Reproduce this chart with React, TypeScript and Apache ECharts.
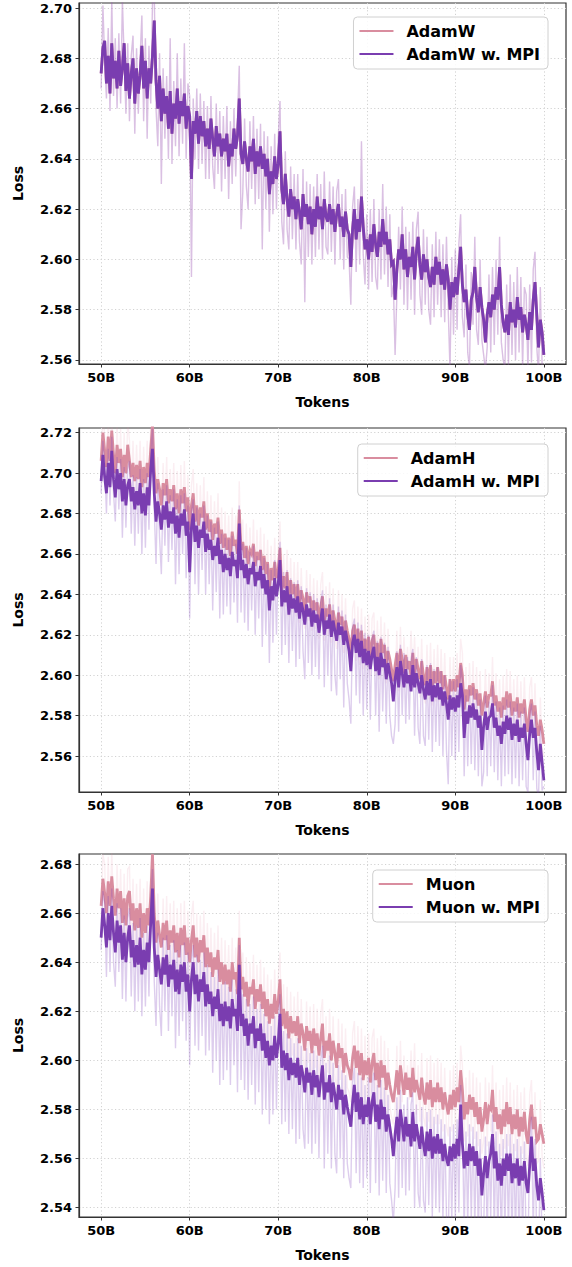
import React, { useEffect, useRef } from "react";
import * as echarts from "echarts";

// ---- data (tokens run evenly from 50B to 100B across each array, 0.2B apart) ----
const TOKEN_START = 50;
const TOKEN_END = 100;

const X_TICKS = [50, 60, 70, 80, 90, 100];
const Y_TICKS_1 = [2.56, 2.58, 2.6, 2.62, 2.64, 2.66, 2.68, 2.7];
const Y_TICKS_2 = [2.56, 2.58, 2.6, 2.62, 2.64, 2.66, 2.68, 2.7, 2.72];
const Y_TICKS_3 = [2.54, 2.56, 2.58, 2.6, 2.62, 2.64, 2.66, 2.68];

// Panel 1: AdamW vs AdamW w. MPI (the two curves coincide in the figure)
const adamwMpi = [
  2.674, 2.684, 2.687, 2.670, 2.681, 2.666, 2.686, 2.672, 2.679, 2.668,
  2.683, 2.669, 2.676, 2.686, 2.667, 2.678, 2.664, 2.674, 2.680, 2.662,
  2.676, 2.666, 2.673, 2.685, 2.668, 2.679, 2.664, 2.676, 2.670, 2.681,
  2.695, 2.671, 2.660, 2.673, 2.655, 2.668, 2.658, 2.665, 2.652, 2.667,
  2.650, 2.662, 2.656, 2.668, 2.654, 2.663, 2.657, 2.666, 2.652, 2.661,
  2.657, 2.632, 2.655, 2.650, 2.659, 2.646, 2.657, 2.649, 2.655, 2.645,
  2.652, 2.644, 2.656, 2.648, 2.641, 2.653, 2.645, 2.650, 2.641, 2.648,
  2.643, 2.650, 2.637, 2.646, 2.641, 2.652, 2.644, 2.649, 2.664, 2.642,
  2.638, 2.647, 2.640, 2.635, 2.645, 2.639, 2.648, 2.634, 2.643, 2.637,
  2.645, 2.636, 2.642, 2.633, 2.640, 2.626, 2.635, 2.630, 2.641, 2.632,
  2.638, 2.651, 2.628, 2.622, 2.634, 2.624, 2.617, 2.628, 2.620, 2.625,
  2.616, 2.624, 2.619, 2.612, 2.626, 2.617, 2.622, 2.614, 2.621, 2.610,
  2.620, 2.613, 2.625, 2.616, 2.621, 2.612, 2.624, 2.617, 2.615, 2.622,
  2.614, 2.620, 2.611, 2.618, 2.622, 2.613, 2.617, 2.609, 2.619, 2.612,
  2.610, 2.597, 2.612, 2.620, 2.608, 2.616, 2.611, 2.625, 2.613, 2.604,
  2.608, 2.600, 2.610, 2.603, 2.614, 2.606, 2.601, 2.611, 2.605, 2.616,
  2.606, 2.611, 2.602, 2.608, 2.598, 2.599, 2.584, 2.596, 2.604, 2.600,
  2.610, 2.596, 2.604, 2.593, 2.601, 2.597, 2.605, 2.592, 2.603, 2.609,
  2.598, 2.592, 2.602, 2.595, 2.600, 2.593, 2.589, 2.597, 2.590, 2.601,
  2.594, 2.599, 2.590, 2.596, 2.588, 2.598, 2.592, 2.580, 2.591, 2.585,
  2.593, 2.586, 2.596, 2.605, 2.590, 2.583, 2.588, 2.578, 2.572, 2.584,
  2.587, 2.597, 2.585, 2.579, 2.589, 2.581, 2.576, 2.567, 2.578, 2.583,
  2.577, 2.586, 2.580, 2.589, 2.584, 2.597, 2.582, 2.575, 2.571, 2.578,
  2.570, 2.583, 2.575, 2.580, 2.573, 2.585, 2.576, 2.581, 2.571, 2.578,
  2.574, 2.568, 2.579, 2.572, 2.584, 2.591, 2.578, 2.565, 2.576, 2.571,
  2.562,
];
const adamwMpiRaw = [
  2.668, 2.701, 2.679, 2.664, 2.692, 2.659, 2.703, 2.665, 2.688, 2.660,
  2.690, 2.662, 2.703, 2.680, 2.658, 2.686, 2.655, 2.681, 2.689, 2.650,
  2.684, 2.658, 2.680, 2.697, 2.655, 2.688, 2.648, 2.685, 2.662, 2.702,
  2.705, 2.660, 2.645, 2.682, 2.630, 2.676, 2.648, 2.673, 2.640, 2.688,
  2.638, 2.671, 2.645, 2.682, 2.641, 2.672, 2.646, 2.686, 2.640, 2.670,
  2.665, 2.593, 2.664, 2.640, 2.668, 2.636, 2.666, 2.638, 2.663, 2.632,
  2.661, 2.632, 2.665, 2.637, 2.628, 2.662, 2.634, 2.659, 2.627, 2.657,
  2.632, 2.661, 2.624, 2.655, 2.630, 2.660, 2.633, 2.656, 2.677, 2.612,
  2.627, 2.656, 2.629, 2.620, 2.655, 2.628, 2.657, 2.622, 2.652, 2.624,
  2.654, 2.604, 2.651, 2.620, 2.649, 2.611, 2.645, 2.618, 2.650, 2.620,
  2.648, 2.663, 2.615, 2.606, 2.643, 2.612, 2.604, 2.637, 2.608, 2.634,
  2.604, 2.634, 2.607, 2.598, 2.636, 2.583, 2.631, 2.601, 2.630, 2.598,
  2.629, 2.601, 2.634, 2.604, 2.630, 2.600, 2.635, 2.605, 2.602, 2.631,
  2.603, 2.629, 2.598, 2.627, 2.632, 2.600, 2.626, 2.596, 2.628, 2.601,
  2.600, 2.582, 2.621, 2.629, 2.595, 2.624, 2.598, 2.647, 2.602, 2.590,
  2.618, 2.588, 2.620, 2.591, 2.624, 2.593, 2.588, 2.620, 2.592, 2.630,
  2.594, 2.621, 2.589, 2.618, 2.585, 2.590, 2.562, 2.586, 2.613, 2.588,
  2.621, 2.582, 2.613, 2.580, 2.611, 2.584, 2.615, 2.578, 2.612, 2.619,
  2.586, 2.578, 2.612, 2.582, 2.609, 2.580, 2.574, 2.606, 2.577, 2.611,
  2.582, 2.608, 2.577, 2.606, 2.575, 2.609, 2.580, 2.556, 2.601, 2.570,
  2.604, 2.572, 2.606, 2.618, 2.577, 2.569, 2.598, 2.563, 2.557, 2.595,
  2.574, 2.609, 2.572, 2.566, 2.600, 2.568, 2.562, 2.556, 2.565, 2.594,
  2.563, 2.597, 2.566, 2.600, 2.570, 2.609, 2.567, 2.560, 2.557, 2.590,
  2.558, 2.594, 2.562, 2.591, 2.560, 2.597, 2.563, 2.593, 2.557, 2.589,
  2.586, 2.556, 2.590, 2.559, 2.596, 2.603, 2.565, 2.555, 2.589, 2.558,
  2.556,
];
const adamw = adamwMpi;
const adamwRaw = adamwMpiRaw;

// Panel 2: AdamH vs AdamH w. MPI
const adamh = [
  2.706, 2.720, 2.711, 2.703, 2.718, 2.706, 2.721, 2.709, 2.700, 2.714,
  2.705, 2.712, 2.698, 2.709, 2.700, 2.714, 2.706, 2.698, 2.705, 2.696,
  2.704, 2.697, 2.706, 2.693, 2.703, 2.695, 2.705, 2.698, 2.712, 2.724,
  2.701, 2.690, 2.697, 2.692, 2.684, 2.695, 2.689, 2.697, 2.685, 2.692,
  2.686, 2.694, 2.682, 2.690, 2.680, 2.692, 2.685, 2.693, 2.681, 2.688,
  2.672, 2.684, 2.690, 2.676, 2.684, 2.674, 2.683, 2.678, 2.686, 2.672,
  2.680, 2.671, 2.677, 2.667, 2.675, 2.670, 2.678, 2.665, 2.672, 2.663,
  2.670, 2.662, 2.668, 2.659, 2.671, 2.664, 2.667, 2.660, 2.682, 2.662,
  2.666, 2.658, 2.664, 2.655, 2.662, 2.660, 2.665, 2.654, 2.661, 2.657,
  2.662, 2.652, 2.659, 2.650, 2.656, 2.643, 2.653, 2.647, 2.656, 2.648,
  2.652, 2.663, 2.642, 2.649, 2.643, 2.651, 2.638, 2.647, 2.640, 2.645,
  2.638, 2.645, 2.635, 2.642, 2.638, 2.632, 2.641, 2.636, 2.639, 2.631,
  2.637, 2.632, 2.636, 2.627, 2.634, 2.639, 2.626, 2.633, 2.629, 2.635,
  2.625, 2.632, 2.627, 2.622, 2.631, 2.625, 2.629, 2.620, 2.627, 2.622,
  2.618, 2.611, 2.622, 2.625, 2.616, 2.623, 2.614, 2.622, 2.612, 2.618,
  2.612, 2.619, 2.609, 2.617, 2.620, 2.609, 2.616, 2.607, 2.618, 2.611,
  2.615, 2.605, 2.612, 2.608, 2.603, 2.597, 2.605, 2.611, 2.601, 2.613,
  2.608, 2.601, 2.610, 2.603, 2.607, 2.599, 2.611, 2.601, 2.608, 2.603,
  2.598, 2.607, 2.600, 2.595, 2.604, 2.597, 2.605, 2.594, 2.602, 2.596,
  2.604, 2.596, 2.602, 2.593, 2.600, 2.594, 2.588, 2.598, 2.592, 2.598,
  2.592, 2.600, 2.594, 2.606, 2.600, 2.583, 2.593, 2.587, 2.595, 2.590,
  2.596, 2.588, 2.593, 2.585, 2.591, 2.580, 2.586, 2.592, 2.584, 2.590,
  2.590, 2.597, 2.585, 2.590, 2.582, 2.587, 2.579, 2.589, 2.583, 2.592,
  2.584, 2.591, 2.580, 2.587, 2.582, 2.589, 2.579, 2.586, 2.581, 2.588,
  2.578, 2.572, 2.583, 2.588, 2.580, 2.585, 2.575, 2.570, 2.578, 2.573,
  2.566,
];
const adamhRaw = [
  2.700, 2.730, 2.718, 2.696, 2.728, 2.698, 2.732, 2.702, 2.694, 2.724,
  2.698, 2.722, 2.690, 2.720, 2.692, 2.726, 2.716, 2.690, 2.716, 2.688,
  2.714, 2.690, 2.716, 2.684, 2.713, 2.686, 2.716, 2.690, 2.724, 2.738,
  2.694, 2.682, 2.708, 2.684, 2.676, 2.705, 2.680, 2.708, 2.677, 2.702,
  2.678, 2.705, 2.673, 2.701, 2.672, 2.704, 2.676, 2.706, 2.672, 2.699,
  2.664, 2.694, 2.702, 2.668, 2.695, 2.665, 2.694, 2.670, 2.698, 2.664,
  2.691, 2.662, 2.689, 2.658, 2.686, 2.662, 2.690, 2.656, 2.683, 2.654,
  2.681, 2.653, 2.679, 2.650, 2.683, 2.655, 2.679, 2.651, 2.696, 2.653,
  2.677, 2.649, 2.675, 2.646, 2.673, 2.651, 2.677, 2.645, 2.672, 2.648,
  2.673, 2.643, 2.670, 2.641, 2.667, 2.634, 2.664, 2.638, 2.668, 2.639,
  2.663, 2.676, 2.633, 2.660, 2.634, 2.662, 2.629, 2.658, 2.631, 2.656,
  2.629, 2.656, 2.626, 2.653, 2.629, 2.623, 2.652, 2.627, 2.650, 2.622,
  2.648, 2.623, 2.647, 2.618, 2.645, 2.651, 2.617, 2.644, 2.620, 2.646,
  2.616, 2.643, 2.618, 2.613, 2.642, 2.616, 2.640, 2.611, 2.638, 2.613,
  2.609, 2.602, 2.633, 2.637, 2.607, 2.634, 2.605, 2.633, 2.603, 2.629,
  2.603, 2.630, 2.600, 2.628, 2.631, 2.600, 2.627, 2.598, 2.629, 2.602,
  2.626, 2.596, 2.623, 2.599, 2.594, 2.588, 2.596, 2.622, 2.592, 2.624,
  2.599, 2.619, 2.601, 2.614, 2.598, 2.622, 2.601, 2.619, 2.594, 2.614,
  2.589, 2.618, 2.591, 2.586, 2.615, 2.588, 2.616, 2.585, 2.613, 2.587,
  2.615, 2.587, 2.613, 2.584, 2.611, 2.585, 2.579, 2.609, 2.583, 2.609,
  2.583, 2.611, 2.585, 2.618, 2.611, 2.574, 2.604, 2.578, 2.606, 2.581,
  2.607, 2.579, 2.604, 2.576, 2.602, 2.571, 2.577, 2.603, 2.575, 2.601,
  2.581, 2.609, 2.576, 2.601, 2.573, 2.598, 2.570, 2.600, 2.574, 2.603,
  2.575, 2.602, 2.571, 2.598, 2.573, 2.600, 2.570, 2.597, 2.572, 2.599,
  2.569, 2.563, 2.594, 2.599, 2.571, 2.596, 2.566, 2.561, 2.589, 2.564,
  2.560,
];
const adamhMpi = [
  2.696, 2.709, 2.698, 2.690, 2.705, 2.693, 2.711, 2.697, 2.688, 2.702,
  2.692, 2.700, 2.686, 2.697, 2.684, 2.694, 2.697, 2.686, 2.693, 2.682,
  2.691, 2.684, 2.695, 2.680, 2.690, 2.679, 2.693, 2.684, 2.702, 2.712,
  2.690, 2.676, 2.686, 2.680, 2.672, 2.684, 2.677, 2.686, 2.673, 2.681,
  2.675, 2.683, 2.670, 2.679, 2.668, 2.680, 2.674, 2.682, 2.669, 2.676,
  2.651, 2.673, 2.680, 2.666, 2.674, 2.663, 2.672, 2.668, 2.676, 2.661,
  2.670, 2.662, 2.667, 2.657, 2.664, 2.659, 2.668, 2.655, 2.662, 2.651,
  2.660, 2.652, 2.658, 2.649, 2.661, 2.654, 2.657, 2.648, 2.675, 2.652,
  2.657, 2.648, 2.655, 2.645, 2.653, 2.650, 2.656, 2.644, 2.651, 2.647,
  2.654, 2.643, 2.650, 2.640, 2.647, 2.632, 2.644, 2.637, 2.648, 2.639,
  2.645, 2.657, 2.634, 2.642, 2.636, 2.644, 2.630, 2.640, 2.633, 2.638,
  2.631, 2.639, 2.628, 2.636, 2.632, 2.625, 2.635, 2.629, 2.633, 2.624,
  2.632, 2.626, 2.630, 2.621, 2.628, 2.633, 2.620, 2.627, 2.623, 2.630,
  2.619, 2.627, 2.622, 2.617, 2.626, 2.620, 2.624, 2.615, 2.622, 2.617,
  2.612, 2.602, 2.616, 2.620, 2.611, 2.618, 2.609, 2.617, 2.606, 2.613,
  2.605, 2.612, 2.603, 2.610, 2.614, 2.602, 2.609, 2.600, 2.611, 2.604,
  2.608, 2.598, 2.606, 2.601, 2.596, 2.587, 2.598, 2.604, 2.594, 2.607,
  2.601, 2.594, 2.603, 2.596, 2.600, 2.592, 2.605, 2.594, 2.601, 2.596,
  2.591, 2.600, 2.593, 2.588, 2.597, 2.590, 2.598, 2.587, 2.595, 2.589,
  2.596, 2.588, 2.594, 2.585, 2.592, 2.586, 2.578, 2.590, 2.583, 2.589,
  2.582, 2.590, 2.584, 2.596, 2.590, 2.569, 2.582, 2.576, 2.585, 2.579,
  2.586, 2.578, 2.583, 2.574, 2.580, 2.563, 2.575, 2.582, 2.573, 2.579,
  2.580, 2.586, 2.574, 2.579, 2.570, 2.575, 2.566, 2.577, 2.571, 2.580,
  2.573, 2.579, 2.568, 2.576, 2.570, 2.578, 2.567, 2.574, 2.569, 2.576,
  2.566, 2.558, 2.571, 2.578, 2.569, 2.574, 2.562, 2.553, 2.566, 2.557,
  2.548,
];
const adamhMpiRaw = [
  2.690, 2.716, 2.705, 2.680, 2.712, 2.684, 2.718, 2.690, 2.676, 2.708,
  2.682, 2.707, 2.668, 2.703, 2.673, 2.702, 2.706, 2.670, 2.699, 2.664,
  2.698, 2.670, 2.702, 2.660, 2.697, 2.663, 2.700, 2.672, 2.710, 2.722,
  2.682, 2.655, 2.695, 2.668, 2.650, 2.692, 2.664, 2.694, 2.656, 2.689,
  2.662, 2.692, 2.645, 2.687, 2.650, 2.689, 2.660, 2.690, 2.648, 2.684,
  2.628, 2.681, 2.687, 2.645, 2.683, 2.640, 2.680, 2.652, 2.684, 2.640,
  2.679, 2.645, 2.676, 2.632, 2.673, 2.641, 2.676, 2.628, 2.670, 2.630,
  2.668, 2.634, 2.667, 2.630, 2.669, 2.636, 2.665, 2.626, 2.684, 2.631,
  2.665, 2.626, 2.663, 2.622, 2.661, 2.632, 2.664, 2.620, 2.659, 2.628,
  2.662, 2.614, 2.658, 2.620, 2.655, 2.606, 2.652, 2.616, 2.657, 2.620,
  2.654, 2.666, 2.610, 2.651, 2.615, 2.652, 2.606, 2.648, 2.612, 2.646,
  2.604, 2.647, 2.608, 2.644, 2.612, 2.598, 2.643, 2.606, 2.641, 2.600,
  2.640, 2.604, 2.638, 2.598, 2.636, 2.642, 2.594, 2.635, 2.600, 2.638,
  2.592, 2.635, 2.600, 2.590, 2.634, 2.598, 2.632, 2.584, 2.630, 2.596,
  2.588, 2.576, 2.624, 2.628, 2.590, 2.626, 2.586, 2.625, 2.580, 2.621,
  2.583, 2.620, 2.578, 2.618, 2.622, 2.580, 2.617, 2.572, 2.619, 2.582,
  2.616, 2.576, 2.614, 2.580, 2.570, 2.566, 2.576, 2.612, 2.572, 2.615,
  2.580, 2.611, 2.576, 2.609, 2.578, 2.608, 2.613, 2.570, 2.609, 2.574,
  2.566, 2.608, 2.570, 2.565, 2.605, 2.568, 2.606, 2.562, 2.603, 2.567,
  2.604, 2.565, 2.602, 2.560, 2.600, 2.563, 2.546, 2.598, 2.560, 2.597,
  2.558, 2.598, 2.562, 2.605, 2.598, 2.550, 2.590, 2.555, 2.593, 2.556,
  2.594, 2.553, 2.591, 2.550, 2.588, 2.545, 2.552, 2.590, 2.550, 2.587,
  2.555, 2.595, 2.552, 2.587, 2.548, 2.584, 2.545, 2.585, 2.550, 2.588,
  2.551, 2.587, 2.546, 2.584, 2.549, 2.586, 2.545, 2.582, 2.548, 2.584,
  2.545, 2.542, 2.579, 2.586, 2.548, 2.582, 2.544, 2.540, 2.575, 2.543,
  2.545,
];

// Panel 3: Muon vs Muon w. MPI
const muon = [
  2.663, 2.674, 2.668, 2.660, 2.673, 2.663, 2.675, 2.666, 2.659, 2.670,
  2.662, 2.669, 2.656, 2.666, 2.655, 2.667, 2.669, 2.657, 2.664, 2.653,
  2.662, 2.654, 2.664, 2.650, 2.660, 2.652, 2.662, 2.655, 2.667, 2.684,
  2.660, 2.648, 2.657, 2.651, 2.646, 2.656, 2.649, 2.657, 2.645, 2.653,
  2.648, 2.655, 2.644, 2.652, 2.642, 2.654, 2.647, 2.655, 2.643, 2.650,
  2.640, 2.649, 2.655, 2.642, 2.650, 2.640, 2.649, 2.644, 2.651, 2.638,
  2.646, 2.638, 2.644, 2.634, 2.642, 2.637, 2.645, 2.632, 2.640, 2.631,
  2.639, 2.631, 2.637, 2.628, 2.640, 2.633, 2.636, 2.627, 2.650, 2.629,
  2.634, 2.626, 2.632, 2.622, 2.630, 2.627, 2.633, 2.621, 2.629, 2.624,
  2.631, 2.621, 2.628, 2.618, 2.625, 2.615, 2.623, 2.617, 2.627, 2.619,
  2.624, 2.633, 2.614, 2.621, 2.613, 2.620, 2.609, 2.618, 2.611, 2.616,
  2.610, 2.618, 2.607, 2.615, 2.611, 2.604, 2.614, 2.608, 2.612, 2.603,
  2.613, 2.606, 2.611, 2.602, 2.609, 2.615, 2.601, 2.608, 2.604, 2.611,
  2.600, 2.608, 2.603, 2.597, 2.607, 2.601, 2.605, 2.595, 2.603, 2.598,
  2.596, 2.592, 2.601, 2.606, 2.597, 2.604, 2.594, 2.603, 2.592, 2.600,
  2.594, 2.601, 2.591, 2.599, 2.603, 2.592, 2.599, 2.589, 2.600, 2.593,
  2.598, 2.588, 2.595, 2.590, 2.586, 2.583, 2.589, 2.596, 2.586, 2.598,
  2.592, 2.586, 2.595, 2.588, 2.593, 2.585, 2.597, 2.587, 2.592, 2.588,
  2.584, 2.593, 2.586, 2.582, 2.591, 2.584, 2.592, 2.581, 2.589, 2.583,
  2.591, 2.583, 2.589, 2.580, 2.587, 2.582, 2.578, 2.586, 2.580, 2.588,
  2.581, 2.589, 2.583, 2.596, 2.588, 2.576, 2.583, 2.578, 2.586, 2.580,
  2.585, 2.577, 2.583, 2.574, 2.581, 2.571, 2.576, 2.583, 2.574, 2.581,
  2.580, 2.588, 2.575, 2.581, 2.572, 2.578, 2.570, 2.580, 2.573, 2.583,
  2.574, 2.581, 2.570, 2.578, 2.572, 2.580, 2.569, 2.577, 2.571, 2.579,
  2.570, 2.566, 2.576, 2.582, 2.572, 2.577, 2.567, 2.568, 2.574, 2.570,
  2.566,
];
const muonRaw = [
  2.657, 2.684, 2.680, 2.652, 2.683, 2.654, 2.686, 2.657, 2.650, 2.680,
  2.654, 2.678, 2.646, 2.676, 2.646, 2.678, 2.679, 2.648, 2.674, 2.644,
  2.672, 2.645, 2.674, 2.641, 2.670, 2.643, 2.673, 2.646, 2.678, 2.695,
  2.652, 2.640, 2.668, 2.642, 2.637, 2.666, 2.640, 2.667, 2.636, 2.664,
  2.639, 2.665, 2.635, 2.662, 2.633, 2.664, 2.638, 2.665, 2.634, 2.661,
  2.631, 2.659, 2.665, 2.633, 2.660, 2.631, 2.659, 2.635, 2.661, 2.629,
  2.656, 2.629, 2.654, 2.625, 2.652, 2.628, 2.655, 2.623, 2.650, 2.622,
  2.649, 2.622, 2.647, 2.619, 2.650, 2.624, 2.646, 2.618, 2.661, 2.620,
  2.644, 2.617, 2.642, 2.613, 2.640, 2.618, 2.643, 2.612, 2.639, 2.615,
  2.641, 2.612, 2.638, 2.609, 2.635, 2.606, 2.633, 2.608, 2.637, 2.610,
  2.634, 2.644, 2.605, 2.631, 2.604, 2.630, 2.600, 2.628, 2.602, 2.626,
  2.601, 2.628, 2.598, 2.625, 2.602, 2.595, 2.624, 2.599, 2.622, 2.594,
  2.623, 2.597, 2.621, 2.593, 2.619, 2.625, 2.592, 2.618, 2.595, 2.621,
  2.591, 2.618, 2.594, 2.588, 2.617, 2.592, 2.615, 2.586, 2.613, 2.589,
  2.587, 2.583, 2.611, 2.616, 2.588, 2.614, 2.585, 2.613, 2.583, 2.610,
  2.585, 2.611, 2.582, 2.609, 2.613, 2.583, 2.609, 2.580, 2.610, 2.584,
  2.608, 2.579, 2.605, 2.581, 2.577, 2.574, 2.580, 2.606, 2.577, 2.608,
  2.583, 2.602, 2.586, 2.598, 2.584, 2.604, 2.588, 2.607, 2.578, 2.598,
  2.575, 2.603, 2.577, 2.573, 2.601, 2.575, 2.602, 2.572, 2.599, 2.574,
  2.601, 2.574, 2.599, 2.571, 2.597, 2.573, 2.569, 2.596, 2.571, 2.598,
  2.572, 2.599, 2.574, 2.606, 2.598, 2.567, 2.593, 2.569, 2.596, 2.571,
  2.595, 2.568, 2.593, 2.565, 2.591, 2.562, 2.567, 2.593, 2.565, 2.591,
  2.571, 2.598, 2.566, 2.591, 2.563, 2.588, 2.561, 2.590, 2.564, 2.593,
  2.565, 2.591, 2.561, 2.588, 2.563, 2.590, 2.560, 2.587, 2.562, 2.589,
  2.561, 2.557, 2.586, 2.592, 2.563, 2.587, 2.558, 2.559, 2.584, 2.561,
  2.556,
];
const muonMpi = [
  2.650, 2.662, 2.655, 2.646, 2.660, 2.649, 2.663, 2.652, 2.644, 2.657,
  2.648, 2.655, 2.641, 2.652, 2.640, 2.650, 2.655, 2.642, 2.649, 2.638,
  2.647, 2.639, 2.650, 2.635, 2.645, 2.637, 2.648, 2.640, 2.656, 2.670,
  2.646, 2.634, 2.643, 2.637, 2.631, 2.642, 2.635, 2.643, 2.630, 2.639,
  2.633, 2.641, 2.628, 2.637, 2.627, 2.639, 2.632, 2.640, 2.628, 2.635,
  2.620, 2.633, 2.640, 2.627, 2.635, 2.624, 2.633, 2.628, 2.636, 2.622,
  2.631, 2.623, 2.628, 2.618, 2.626, 2.621, 2.629, 2.616, 2.623, 2.614,
  2.624, 2.616, 2.622, 2.613, 2.625, 2.618, 2.621, 2.612, 2.639, 2.614,
  2.619, 2.610, 2.617, 2.606, 2.615, 2.611, 2.618, 2.605, 2.613, 2.608,
  2.615, 2.604, 2.611, 2.601, 2.608, 2.598, 2.606, 2.600, 2.610, 2.601,
  2.607, 2.619, 2.597, 2.604, 2.596, 2.603, 2.592, 2.601, 2.594, 2.599,
  2.593, 2.601, 2.590, 2.598, 2.594, 2.587, 2.597, 2.591, 2.595, 2.586,
  2.596, 2.589, 2.594, 2.585, 2.592, 2.598, 2.584, 2.591, 2.587, 2.594,
  2.583, 2.591, 2.586, 2.580, 2.590, 2.584, 2.588, 2.578, 2.586, 2.581,
  2.577, 2.573, 2.583, 2.590, 2.579, 2.587, 2.576, 2.585, 2.574, 2.582,
  2.577, 2.585, 2.574, 2.583, 2.587, 2.575, 2.582, 2.572, 2.584, 2.576,
  2.581, 2.571, 2.578, 2.573, 2.568, 2.561, 2.570, 2.577, 2.567, 2.580,
  2.574, 2.567, 2.577, 2.569, 2.574, 2.565, 2.579, 2.567, 2.574, 2.569,
  2.564, 2.573, 2.566, 2.561, 2.571, 2.563, 2.572, 2.560, 2.569, 2.562,
  2.570, 2.562, 2.568, 2.559, 2.566, 2.560, 2.557, 2.565, 2.559, 2.566,
  2.560, 2.568, 2.561, 2.582, 2.566, 2.556, 2.563, 2.557, 2.566, 2.559,
  2.565, 2.557, 2.563, 2.553, 2.560, 2.545, 2.554, 2.561, 2.552, 2.559,
  2.562, 2.570, 2.556, 2.563, 2.551, 2.558, 2.549, 2.560, 2.553, 2.562,
  2.555, 2.562, 2.550, 2.558, 2.552, 2.560, 2.549, 2.557, 2.551, 2.559,
  2.550, 2.546, 2.557, 2.569, 2.555, 2.560, 2.549, 2.543, 2.552, 2.546,
  2.539,
];
const muonMpiRaw = [
  2.645, 2.669, 2.664, 2.634, 2.667, 2.636, 2.670, 2.640, 2.630, 2.664,
  2.636, 2.662, 2.625, 2.659, 2.624, 2.658, 2.662, 2.626, 2.656, 2.620,
  2.655, 2.624, 2.658, 2.618, 2.652, 2.622, 2.655, 2.626, 2.664, 2.678,
  2.632, 2.614, 2.652, 2.622, 2.610, 2.650, 2.620, 2.651, 2.612, 2.647,
  2.618, 2.649, 2.605, 2.645, 2.610, 2.647, 2.616, 2.648, 2.608, 2.644,
  2.598, 2.641, 2.647, 2.606, 2.643, 2.604, 2.641, 2.610, 2.644, 2.602,
  2.639, 2.604, 2.636, 2.595, 2.634, 2.600, 2.637, 2.590, 2.631, 2.592,
  2.632, 2.596, 2.630, 2.590, 2.633, 2.598, 2.629, 2.587, 2.647, 2.592,
  2.627, 2.588, 2.625, 2.584, 2.623, 2.590, 2.626, 2.582, 2.621, 2.587,
  2.623, 2.578, 2.619, 2.580, 2.616, 2.574, 2.614, 2.578, 2.618, 2.580,
  2.615, 2.627, 2.574, 2.612, 2.575, 2.611, 2.570, 2.609, 2.572, 2.607,
  2.566, 2.609, 2.568, 2.606, 2.572, 2.564, 2.605, 2.566, 2.603, 2.562,
  2.604, 2.566, 2.602, 2.560, 2.600, 2.606, 2.556, 2.599, 2.562, 2.602,
  2.556, 2.599, 2.562, 2.554, 2.598, 2.560, 2.596, 2.552, 2.594, 2.558,
  2.552, 2.548, 2.591, 2.597, 2.554, 2.595, 2.550, 2.593, 2.548, 2.590,
  2.552, 2.593, 2.546, 2.591, 2.595, 2.550, 2.590, 2.545, 2.592, 2.551,
  2.589, 2.546, 2.586, 2.550, 2.543, 2.534, 2.548, 2.585, 2.544, 2.588,
  2.548, 2.582, 2.545, 2.585, 2.547, 2.582, 2.587, 2.540, 2.582, 2.546,
  2.540, 2.581, 2.543, 2.538, 2.579, 2.541, 2.580, 2.536, 2.577, 2.540,
  2.578, 2.538, 2.576, 2.535, 2.574, 2.537, 2.526, 2.573, 2.535, 2.574,
  2.536, 2.576, 2.538, 2.590, 2.574, 2.530, 2.571, 2.533, 2.574, 2.535,
  2.573, 2.532, 2.571, 2.528, 2.568, 2.522, 2.530, 2.569, 2.528, 2.567,
  2.536, 2.578, 2.530, 2.571, 2.527, 2.566, 2.525, 2.568, 2.530, 2.570,
  2.530, 2.570, 2.526, 2.566, 2.528, 2.568, 2.524, 2.565, 2.527, 2.567,
  2.525, 2.522, 2.565, 2.577, 2.530, 2.568, 2.524, 2.520, 2.560, 2.526,
  2.532,
];

// ---- styling ----
const FONT = "DejaVu Sans";
const PINK = "#d98d9f";
const PURPLE = "#7a3db0";
const PINK_RAW = "rgba(228,140,170,0.15)";
const PURPLE_RAW = "rgba(128,70,190,0.27)";

const toPairs = (vals: number[]) =>
  vals.map((v, i) => [
    TOKEN_START + (i * (TOKEN_END - TOKEN_START)) / (vals.length - 1),
    v,
  ]);

const PANELS = [
  {
    base: "AdamW", mpi: "AdamW w. MPI",
    baseVals: adamw, baseRaw: adamwRaw, mpiVals: adamwMpi, mpiRaw: adamwMpiRaw,
    yMin: 2.5584, yMax: 2.702, yTicks: Y_TICKS_1,
    top: 3, height: 361, legendTop: 17,
  },
  {
    base: "AdamH", mpi: "AdamH w. MPI",
    baseVals: adamh, baseRaw: adamhRaw, mpiVals: adamhMpi, mpiRaw: adamhMpiRaw,
    yMin: 2.5422, yMax: 2.7223, yTicks: Y_TICKS_2,
    top: 428, height: 364, legendTop: 444,
  },
  {
    base: "Muon", mpi: "Muon w. MPI",
    baseVals: muon, baseRaw: muonRaw, mpiVals: muonMpi, mpiRaw: muonMpiRaw,
    yMin: 2.5362, yMax: 2.6841, yTicks: Y_TICKS_3,
    top: 854, height: 363, legendTop: 870,
  },
];

const AXIS_COLOR = "#333";
const GRID_LINE = { color: "#d2d2d2", type: [1.2, 2.4], width: 1 };

export default function App() {
  const ref = useRef<HTMLDivElement>(null);
  useEffect(() => {
    document.body.style.margin = "0";
    if (!ref.current) return;
    const chart = echarts.init(ref.current, undefined, { renderer: "svg" });

    const grid = PANELS.map((p) => ({
      left: 79, top: p.top, width: 487, height: p.height,
      show: true, borderColor: AXIS_COLOR, borderWidth: 1.2,
      backgroundColor: "transparent", containLabel: false,
    }));

    const xAxis = PANELS.map((p, k) => ({
      type: "value", gridIndex: k, min: 47.5, max: 102.5, splitNumber: 5,
      name: "Tokens", nameLocation: "middle", nameGap: 31,
      nameTextStyle: { fontFamily: FONT, fontWeight: "bold", fontSize: 14, color: "#000" },
      axisLine: { show: true, onZero: false, lineStyle: { color: AXIS_COLOR, width: 1.2 } },
      axisTick: { show: true, length: 3.5, inside: false, customValues: X_TICKS, lineStyle: { color: AXIS_COLOR, width: 1 } },
      axisLabel: {
        margin: 7, customValues: X_TICKS,
        fontFamily: FONT, fontWeight: "bold", fontSize: 13, color: "#000",
        formatter: (v: number) => (Math.abs(v / 10 - Math.round(v / 10)) < 1e-6 ? `${Math.round(v)}B` : ""),
      },
      splitLine: { show: true, lineStyle: GRID_LINE },
    }));

    const yAxis = PANELS.map((p, k) => ({
      type: "value", gridIndex: k, min: p.yMin, max: p.yMax, splitNumber: k === 1 ? 9 : 7,
      name: "Loss", nameLocation: "middle", nameGap: 54,
      nameTextStyle: { fontFamily: FONT, fontWeight: "bold", fontSize: 14, color: "#000" },
      axisLine: { show: true, onZero: false, lineStyle: { color: AXIS_COLOR, width: 1.2 } },
      axisTick: { show: true, length: 3.5, inside: false, customValues: p.yTicks, lineStyle: { color: AXIS_COLOR, width: 1 } },
      axisLabel: {
        margin: 7, customValues: p.yTicks,
        fontFamily: FONT, fontWeight: "bold", fontSize: 13, color: "#000",
        formatter: (v: number) => {
          const r = Math.round(v * 50);
          return Math.abs(v * 50 - r) < 1e-6 ? (r / 50).toFixed(2) : "";
        },
      },
      splitLine: { show: true, lineStyle: GRID_LINE },
    }));

    const line = (name: string, vals: number[], k: number, color: string, width: number, z: number) => ({
      type: "line", name, xAxisIndex: k, yAxisIndex: k, data: toPairs(vals),
      showSymbol: false, symbol: "none", silent: true, z,
      emphasis: { disabled: true },
      color, itemStyle: { color },
      lineStyle: { color, width, join: "miter" },
    });

    const series: any[] = [];
    PANELS.forEach((p, k) => {
      series.push(line(p.base + " raw", p.baseRaw, k, PINK_RAW, 1.4, 2));
      series.push(line(p.base, p.baseVals, k, PINK, 2.8, 3));
      series.push(line(p.mpi + " raw", p.mpiRaw, k, PURPLE_RAW, 1.4, 4));
      series.push(line(p.mpi, p.mpiVals, k, PURPLE, 2.8, 5));
    });

    const legend = PANELS.map((p) => ({
      data: [p.base, p.mpi],
      orient: "vertical", right: 24, top: p.legendTop,
      icon: "rect", itemWidth: 34, itemHeight: 2, itemGap: 7,
      padding: [6, 8, 7, 6],
      backgroundColor: "rgba(255,255,255,0.85)",
      borderColor: "#d0d0d0", borderWidth: 1, borderRadius: 4,
      selectedMode: false,
      textStyle: { fontFamily: FONT, fontWeight: "bold", fontSize: 16, color: "#000", padding: [0, 0, 0, 8] },
    }));

    chart.setOption({
      animation: false,
      backgroundColor: "#fff",
      grid, xAxis, yAxis, series, legend,
    });
    return () => chart.dispose();
  }, []);
  return <div ref={ref} style={{ width: 572, height: 1267 }} />;
}
